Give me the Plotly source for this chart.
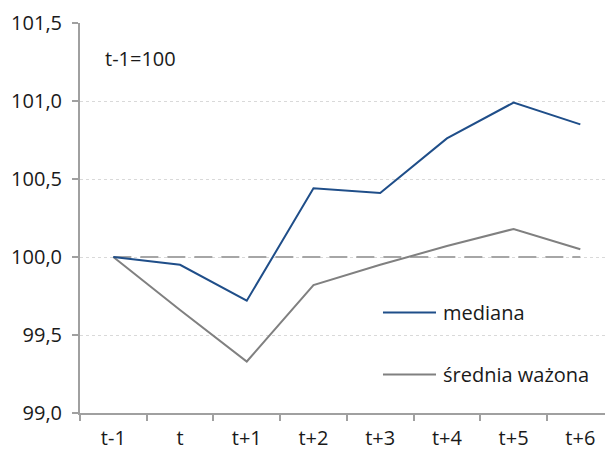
import plotly.graph_objects as go

# Okresy względem bazy t-1
okresy = ["t-1", "t", "t+1", "t+2", "t+3", "t+4", "t+5", "t+6"]
baza = [100.0, 100.0, 100.0, 100.0, 100.0, 100.0, 100.0, 100.0]
mediana = [100.0, 99.95, 99.72, 100.44, 100.41, 100.76, 100.99, 100.85]
srednia_wazona = [100.0, 99.66, 99.33, 99.82, 99.95, 100.07, 100.18, 100.05]

y_ticks = [99.0, 99.5, 100.0, 100.5, 101.0, 101.5]

FONT = "Open Sans"
TEXT = "#1a1a1a"
AXIS = "#a0a0a0"
BLUE = "#1f4e89"
GREY = "#808080"

fig = go.Figure()

fig.add_trace(go.Scatter(
    x=okresy, y=baza, mode="lines", name="t-1=100",
    line=dict(color="#a6a6a6", width=2, dash="18px,9px"),
    showlegend=False, hoverinfo="skip",
))
fig.add_trace(go.Scatter(
    x=okresy, y=srednia_wazona, mode="lines", name="średnia ważona",
    line=dict(color=GREY, width=2), showlegend=False,
))
fig.add_trace(go.Scatter(
    x=okresy, y=mediana, mode="lines", name="mediana",
    line=dict(color=BLUE, width=2), showlegend=False,
))

# Legenda z dłuższymi odcinkami linii
legend_items = [("mediana", BLUE, 0.2575), ("średnia ważona", GREY, 0.0985)]
for label, color, yp in legend_items:
    fig.add_shape(type="line", xref="paper", yref="paper",
                  x0=0.5771, x1=0.6781, y0=yp, y1=yp,
                  line=dict(color=color, width=2))
    fig.add_annotation(xref="paper", yref="paper", x=0.6876, y=yp,
                       text=label, showarrow=False, xanchor="left",
                       yanchor="middle",
                       font=dict(family=FONT, size=20, color=TEXT))

fig.add_annotation(xref="paper", yref="paper", x=0.044, y=0.908,
                   text="t-1=100", showarrow=False, xanchor="left",
                   yanchor="middle",
                   font=dict(family=FONT, size=20, color=TEXT))

fig.update_xaxes(
    type="category", range=[-0.5, 7.37],
    showline=True, linecolor=AXIS, linewidth=2,
    ticks="outside", tickson="boundaries", ticklen=6, tickwidth=2,
    tickcolor=AXIS, showgrid=False, zeroline=False,
    ticklabelstandoff=6, automargin=False,
    tickfont=dict(family=FONT, size=20, color=TEXT),
)
fig.update_yaxes(
    range=[99.0, 101.5], tickvals=y_ticks, tickformat=".1f",
    showline=True, linecolor=AXIS, linewidth=2,
    ticks="outside", ticklen=6, tickwidth=2, tickcolor=AXIS,
    showgrid=True, gridcolor="#d9d9d9", gridwidth=1, griddash="dot",
    zeroline=False, ticklabelstandoff=6, automargin=False,
    tickfont=dict(family=FONT, size=20, color=TEXT),
)

fig.update_layout(
    width=605, height=451,
    margin=dict(l=80, r=0, t=23, b=38),
    paper_bgcolor="white", plot_bgcolor="white",
    separators=",.",
    showlegend=False,
)

fig.write_html("out.html")
